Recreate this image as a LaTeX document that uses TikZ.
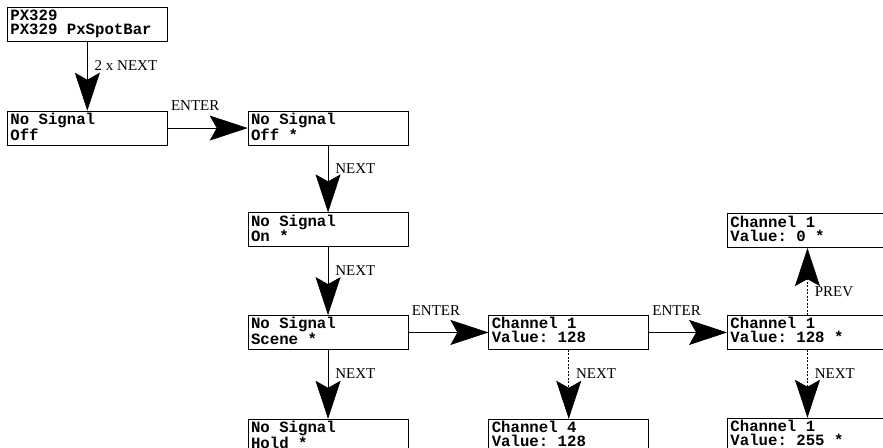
\documentclass[tikz,border=0pt]{standalone}
\usepackage{fontspec}
\setmainfont{Liberation Serif}
\setmonofont{Liberation Mono}
\usetikzlibrary{arrows.meta,positioning}

\tikzset{
  screen/.style={draw, line width=0.7pt, anchor=north west, minimum width=160pt,
    minimum height=34pt, text width=154pt, text height=10.5pt, text depth=17.5pt,
    inner xsep=3pt, inner ysep=0pt,
    align=flush left, font=\ttfamily\bfseries\fontsize{15.7}{14}\selectfont},
  key/.style={font=\fontsize{15}{17}\selectfont, inner sep=1pt},
  flow/.style={line width=0.7pt, -{Stealth[length=38pt,width=25pt,inset=7pt]}},
  flowdash/.style={flow, line width=0.6pt, dash pattern=on 2pt off 1.5pt},
}

\begin{document}
\begin{tikzpicture}[x=1pt,y=1pt]
\clip (0,0) rectangle (883,-447);
% Menu screens
\node[screen] (px) at (7,-7) {PX329\\PX329 PxSpotBar};
\node[screen, below=69pt of px] (off) {No Signal\\Off};
\node[screen, right=80pt of off] (offs) {No Signal\\Off *};
\node[screen, below=67pt of offs] (on) {No Signal\\On *};
\node[screen, below=68pt of on] (scene) {No Signal\\Scene *};
\node[screen, below=69pt of scene] (hold) {No Signal\\Hold *};
% Scene channel editing
\node[screen, right=80pt of scene] (ch1) {Channel 1\\Value: 128};
\node[screen, below=69pt of ch1] (ch4) {Channel 4\\Value: 128};
\node[screen, right=78pt of ch1] (ch1s) {Channel 1\\Value: 128 *};
\node[screen, above=67pt of ch1s] (ch0) {Channel 1\\Value: 0 *};
\node[screen, below=68pt of ch1s] (ch255) {Channel 1\\Value: 255 *};
% Key presses
\draw[flow] (px) -- node[key, right, pos=.35, xshift=6pt] {2 x NEXT} (off);
\foreach \a/\b in {off/offs, scene/ch1, ch1/ch1s} {
  \draw[flow] (\a) -- node[key, pos=0, anchor=south west, xshift=2pt, yshift=16pt] {ENTER} (\b);
}
\foreach \a/\b in {offs/on, on/scene, scene/hold} {
  \draw[flow] (\a) -- node[key, right, pos=.35, xshift=6pt] {NEXT} (\b);
}
\draw[flowdash] (ch1) -- node[key, right, pos=.35, xshift=6pt] {NEXT} (ch4);
\draw[flowdash] (ch1s) -- node[key, right, pos=.35, xshift=6pt] {NEXT} (ch255);
\draw[flowdash] (ch1s) -- node[key, right, pos=.35, xshift=6pt] {PREV} (ch0);
\end{tikzpicture}
\end{document}
